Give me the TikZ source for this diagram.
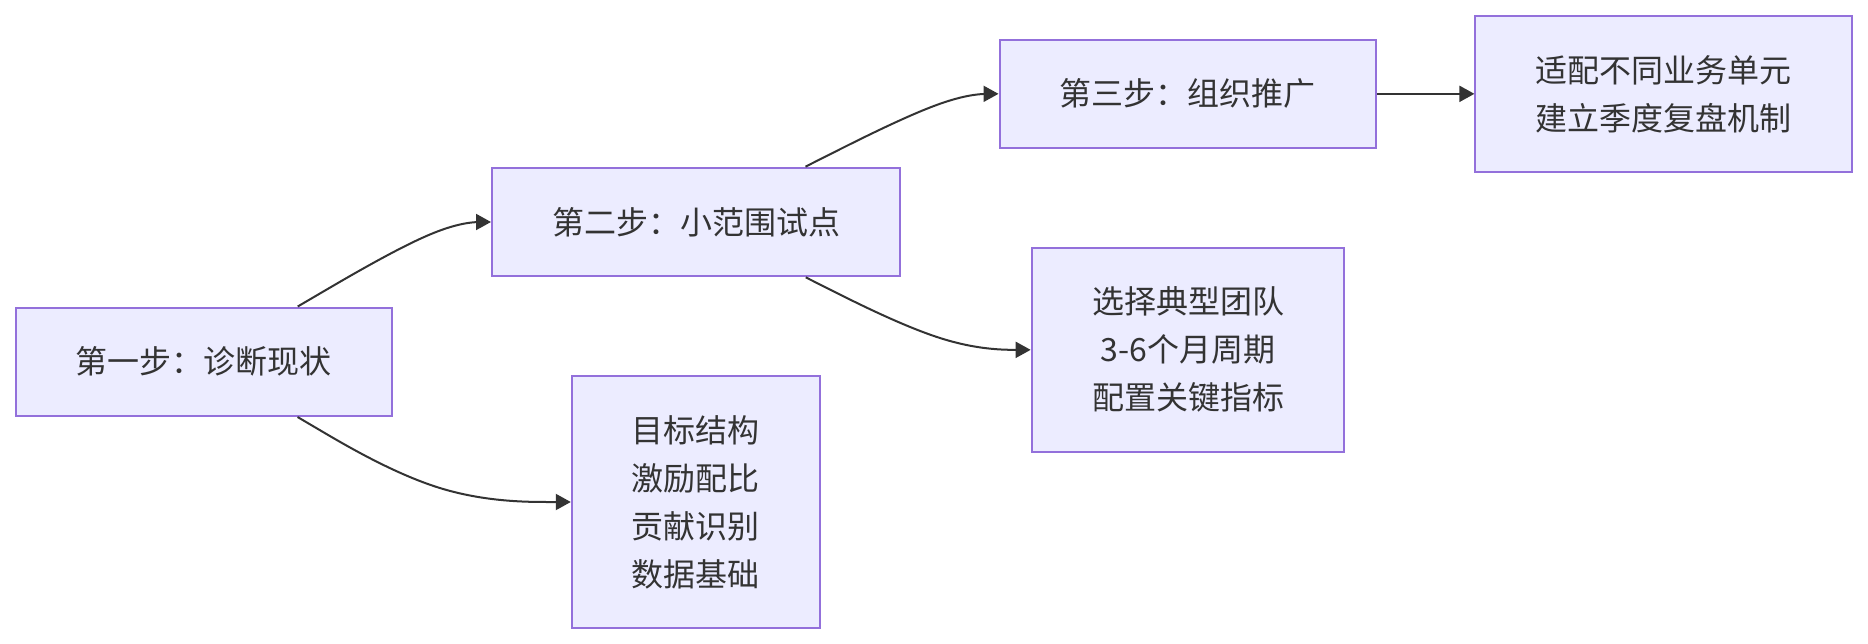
\documentclass[tikz,border=0pt]{standalone}
\usepackage{fontspec}
\setmainfont{Noto Sans CJK SC}
\usetikzlibrary{arrows.meta,calc}
\definecolor{nodefill}{HTML}{ECECFF}
\definecolor{nodeline}{HTML}{9370DB}
\definecolor{edgecol}{HTML}{333333}
\definecolor{txt}{HTML}{333333}
\newcommand\basisedge[3]{%
  \draw[edge] (#1) -- ($0.8333*(#1)+0.1667*(#2)$)
    .. controls ($0.6667*(#1)+0.3333*(#2)$) and ($0.3333*(#1)+0.6667*(#2)$)
    .. ($0.1667*(#1)+0.6667*(#2)+0.1667*(#3)$)
    .. controls ($0.6667*(#2)+0.3333*(#3)$) and ($0.3333*(#2)+0.6667*(#3)$)
    .. ($0.1667*(#2)+0.8333*(#3)$) -- (#3);%
}
\begin{document}
\begin{tikzpicture}[x=1pt,y=-1pt,
  box/.style={draw=nodeline,fill=nodefill,line width=2pt,inner sep=0pt,
    align=center,text=txt,font=\fontsize{32}{48}\selectfont},
  edge/.style={draw=edgecol,line width=2pt,-{Triangle[length=15pt,width=16pt]}}]
\useasboundingbox (0,0) rectangle (1868,644);
\node[box,minimum width=376.5pt,minimum height=108.5pt] (A) at (203.75,361.75) {第一步：诊断现状};
\node[box,minimum width=408pt,minimum height=108.7pt] (B) at (696,222) {第二步：小范围试点};
\node[box,minimum width=248.2pt,minimum height=252.6pt] (C) at (695.9,502) {目标结构\\激励配比\\贡献识别\\数据基础};
\node[box,minimum width=376.5pt,minimum height=108.3pt] (D) at (1187.75,93.85) {第三步：组织推广};
\node[box,minimum width=312.7pt,minimum height=204.3pt] (E) at (1188,349.85) {选择典型团队\\3-6个月周期\\配置关键指标};
\node[box,minimum width=377pt,minimum height=156.3pt] (F) at (1663.9,93.85) {适配不同业务单元\\建立季度复盘机制};
\coordinate (mAB) at (442,222);
\coordinate (mAC) at (442,502);
\coordinate (mBD) at (949.75,93.85);
\coordinate (mBE) at (949.75,349.85);
\path (A) -- (mAB) coordinate[pos=0] (sAB);
\path (A) -- (mAC) coordinate[pos=0] (sAC);
\path (B) -- (mBD) coordinate[pos=0] (sBD);
\path (B) -- (mBE) coordinate[pos=0] (sBE);
\basisedge{sAB}{mAB}{B.west}
\basisedge{sAC}{mAC}{C.west}
\basisedge{sBD}{mBD}{D.west}
\basisedge{sBE}{mBE}{E.west}
\draw[edge] (D.east) -- (F.west);
\end{tikzpicture}
\end{document}
